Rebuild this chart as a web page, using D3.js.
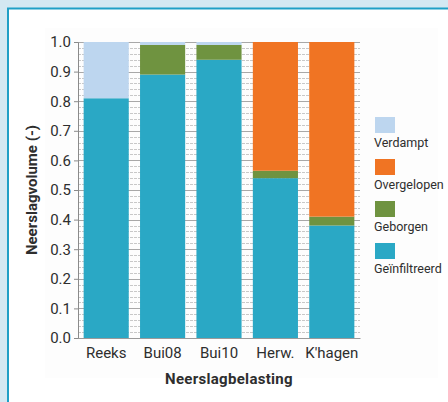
<!DOCTYPE html>
<html>
<head>
<meta charset="utf-8">
<script src="https://cdn.jsdelivr.net/npm/d3@7"></script>
<style>
  html, body { margin: 0; padding: 0; background: #d3e8f2; }
  svg { display: block; }
  text { font-family: Roboto, "Noto Sans", sans-serif; fill: #2e2e2e; }
</style>
</head>
<body>
<svg id="chart" width="448" height="402"></svg>
<script>
// Categories (precipitation load scenarios)
const categories = ["Reeks", "Bui08", "Bui10", "Herw.", "K'hagen"];

// Stacked fractions per scenario, bottom to top
const geinfiltreerd = [0.81, 0.89, 0.94, 0.54, 0.38];
const geborgen      = [0.00, 0.10, 0.05, 0.025, 0.03];
const overgelopen   = [0.00, 0.00, 0.00, 0.435, 0.59];
const verdampt      = [0.19, 0.01, 0.01, 0.00, 0.00];

const seriesKeys   = ["Geïnfiltreerd", "Geborgen", "Overgelopen", "Verdampt"];
const seriesValues = [geinfiltreerd, geborgen, overgelopen, verdampt];
const seriesColors = ["#2aa8c5", "#6f9340", "#f07423", "#bdd6ef"];
const legendOrder  = ["Verdampt", "Overgelopen", "Geborgen", "Geïnfiltreerd"];

const yTicks = [0, 0.1, 0.2, 0.3, 0.4, 0.5, 0.6, 0.7, 0.8, 0.9, 1.0];

const svg = d3.select("#chart");

// Framed white panel
svg.append("rect").attr("x", 7).attr("y", 8).attr("width", 448).attr("height", 402)
  .attr("fill", "#ffffff");
svg.append("line").attr("x1", 7).attr("x2", 448).attr("y1", 8.5).attr("y2", 8.5)
  .attr("stroke", "#1f9fc6").attr("stroke-width", 2);
svg.append("line").attr("x1", 8).attr("x2", 8).attr("y1", 8).attr("y2", 402)
  .attr("stroke", "#1f9fc6").attr("stroke-width", 2);
svg.append("rect").attr("x", 45).attr("y", 28).attr("width", 393).attr("height", 350)
  .attr("fill", "#fdfdfd");

const margin = { left: 78, right: 360, top: 42, bottom: 338 };

const x = d3.scaleBand().domain(categories)
  .range([margin.left, margin.right]).paddingInner(0.2).paddingOuter(0.1);
const y = d3.scaleLinear().domain([0, 1]).range([margin.bottom, margin.top]);

// Minor gridlines every 0.02
const minor = d3.range(0, 1.0001, 0.02);
svg.append("g").selectAll("line").data(minor).join("line")
  .attr("x1", margin.left).attr("x2", margin.right)
  .attr("y1", d => Math.round(y(d)) + 0.5).attr("y2", d => Math.round(y(d)) + 0.5)
  .attr("stroke", "#c8c8c8").attr("stroke-width", 1).attr("stroke-dasharray", "3,1");

// Major gridlines every 0.1
svg.append("g").selectAll("line").data(yTicks).join("line")
  .attr("x1", margin.left).attr("x2", margin.right)
  .attr("y1", d => Math.round(y(d)) + 0.5).attr("y2", d => Math.round(y(d)) + 0.5)
  .attr("stroke", "#a8a8a8").attr("stroke-width", 1);

// Stacked bars
const rows = categories.map((c, i) => {
  const r = { cat: c };
  seriesKeys.forEach((k, j) => r[k] = seriesValues[j][i]);
  return r;
});
const stacked = d3.stack().keys(seriesKeys)(rows);
svg.append("g").selectAll("g").data(stacked).join("g")
  .attr("fill", (d, i) => seriesColors[i])
  .selectAll("rect").data(d => d).join("rect")
  .attr("x", d => x(d.data.cat))
  .attr("width", x.bandwidth())
  .attr("y", d => y(d[1]))
  .attr("height", d => Math.max(0, y(d[0]) - y(d[1])));

// Y axis
const yAxis = d3.axisLeft(y).tickValues(yTicks).tickFormat(d3.format(".1f"))
  .tickSize(4).tickPadding(3);
const gy = svg.append("g").attr("transform", `translate(${margin.left},0)`).call(yAxis);
gy.select(".domain").attr("stroke", "#8a8a8a");
gy.selectAll(".tick line").attr("stroke", "#8a8a8a");
gy.selectAll("text").style("font-size", "15px").attr("fill", "#2e2e2e");

// X axis
const xAxis = d3.axisBottom(x).tickSize(0).tickPadding(9);
const gx = svg.append("g").attr("transform", `translate(0,${margin.bottom})`).call(xAxis);
gx.select(".domain").attr("stroke", "#9a9a9a");
gx.selectAll("text").style("font-size", "15px").attr("fill", "#2e2e2e");

// Axis titles
svg.append("text").attr("x", 229).attr("y", 384).attr("text-anchor", "middle")
  .style("font-size", "15px").style("font-weight", "bold").style("letter-spacing", "0.3px")
  .text("Neerslagbelasting");
svg.append("text").attr("transform", `translate(37,${(margin.top + margin.bottom) / 2}) rotate(-90)`)
  .attr("text-anchor", "middle").style("font-size", "15px").style("font-weight", "bold")
  .text("Neerslagvolume (-)");

// Legend
const legend = svg.append("g").selectAll("g").data(legendOrder).join("g")
  .attr("transform", (d, i) => `translate(375,${117 + i * 42})`);
legend.append("rect").attr("width", 20).attr("height", 16)
  .attr("fill", d => seriesColors[seriesKeys.indexOf(d)]);
legend.append("text").attr("x", -1).attr("y", 30)
  .style("font-size", "12.5px").text(d => d);
</script>
</body>
</html>
